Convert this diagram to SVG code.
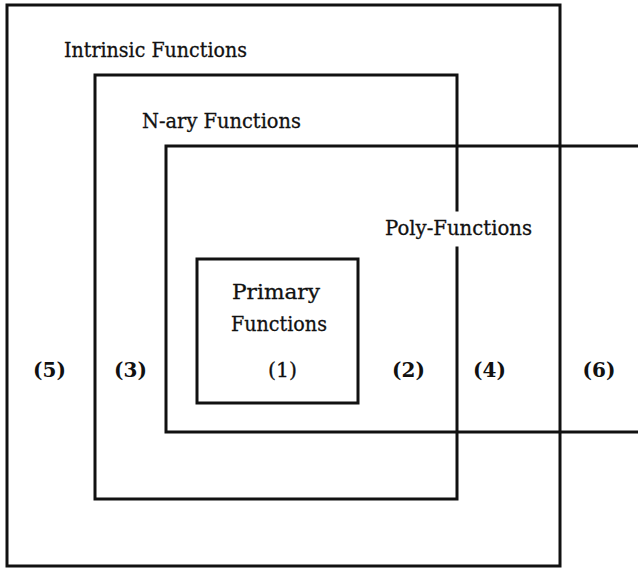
<svg xmlns="http://www.w3.org/2000/svg" width="638" height="569" viewBox="0 0 638 569">
<style>
.b{fill:none;stroke:#111;stroke-width:3;stroke-linecap:square}
.t{font-family:"DejaVu Serif","Liberation Serif",serif;font-size:20.5px;fill:#111;stroke:#111;stroke-width:0.3}
.n{font-family:"DejaVu Serif","Liberation Serif",serif;font-size:20px;fill:#111;font-weight:bold;text-anchor:middle}
</style>
<rect width="638" height="569" fill="#fff"/>
<g id="intrinsic">
<rect class="b" x="7" y="5" width="553" height="561"/>
<text class="t" x="64" y="57" textLength="183" lengthAdjust="spacingAndGlyphs">Intrinsic Functions</text>
<text class="n" x="49.5" y="377">(5)</text>
</g>
<g id="nary">
<path class="b" d="M457,210 V75 H95 V499 H457 V248"/>
<text class="t" x="142" y="128" textLength="159" lengthAdjust="spacingAndGlyphs">N-ary Functions</text>
<text class="n" x="130.5" y="377">(3)</text>
</g>
<g id="poly">
<path class="b" d="M640,146 H166 V432 H640"/>
<text class="t" x="385" y="235" textLength="147" lengthAdjust="spacingAndGlyphs">Poly-Functions</text>
<text class="n" x="408.5" y="377">(2)</text>
<text class="n" x="489.5" y="377">(4)</text>
<text class="n" x="599" y="377">(6)</text>
</g>
<g id="primary">
<rect class="b" x="197" y="259" width="161" height="144"/>
<text class="t" x="232" y="299" textLength="88" lengthAdjust="spacingAndGlyphs">Primary</text>
<text class="t" x="231" y="331" textLength="96" lengthAdjust="spacingAndGlyphs">Functions</text>
<text class="t" x="282.5" y="377" text-anchor="middle">(1)</text>
</g>
<g id="connectors"></g>
</svg>
